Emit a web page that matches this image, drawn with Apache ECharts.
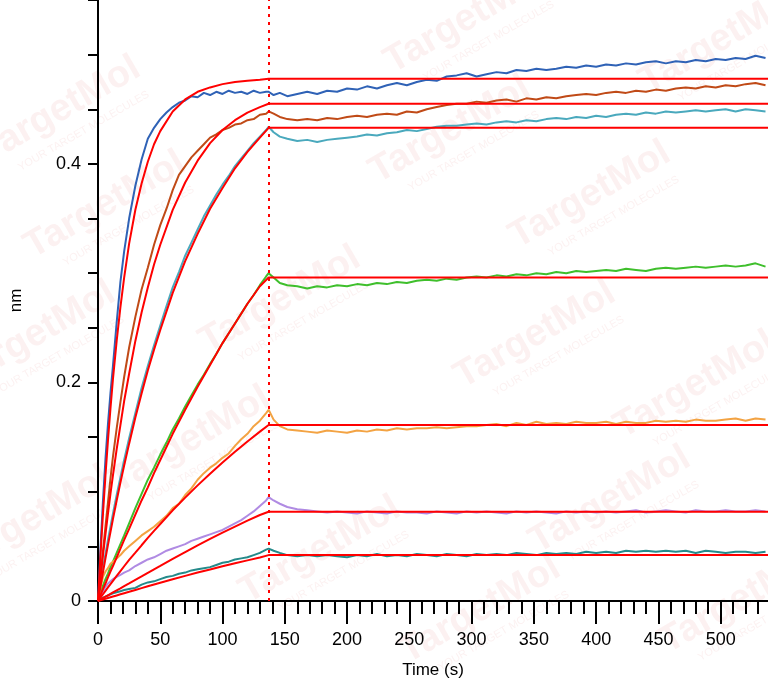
<!DOCTYPE html>
<html><head><meta charset="utf-8">
<script src="https://cdn.jsdelivr.net/npm/echarts@6/dist/echarts.min.js"></script>
<style>html,body{margin:0;padding:0;background:#fff}#c{width:768px;height:684px}</style>
</head><body><div id="c"></div>
<script>
// time points (s)
const times = [0,2,4,6,8,10,12,15,18,21,25,30,35,40,45,50,55,60,65,70,75,80,85,90,95,100,105,110,115,120,125,130,135,137,
  141,146,152,160,168,176,184,192,200,208,216,224,232,240,248,256,264,272,280,288,296,304,312,320,328,336,344,352,360,368,376,384,392,400,408,416,424,432,440,448,456,464,472,480,488,496,504,512,520,528,536];
const blue = [0,0.048,0.092,0.130,0.162,0.190,0.215,0.255,0.292,0.320,0.350,0.380,0.404,0.423,0.433,0.441,0.447,0.452,0.456,0.458,0.462,0.461,0.465,0.463,0.466,0.464,0.467,0.465,0.466,0.464,0.467,0.465,0.466,0.466,
  0.463,0.465,0.462,0.464,0.466,0.464,0.467,0.466,0.469,0.468,0.471,0.469,0.472,0.474,0.472,0.475,0.477,0.476,0.480,0.481,0.483,0.480,0.482,0.484,0.483,0.486,0.485,0.487,0.486,0.487,0.489,0.488,0.490,0.489,0.491,0.490,0.492,0.491,0.493,0.494,0.492,0.494,0.493,0.495,0.494,0.496,0.495,0.497,0.496,0.499,0.497];
const brown = [0,0.024,0.046,0.068,0.090,0.112,0.132,0.158,0.182,0.205,0.232,0.260,0.285,0.305,0.326,0.344,0.359,0.376,0.390,0.398,0.406,0.412,0.418,0.424,0.427,0.431,0.433,0.436,0.437,0.440,0.441,0.445,0.446,0.448,
  0.446,0.443,0.441,0.440,0.441,0.440,0.442,0.441,0.443,0.444,0.443,0.445,0.446,0.445,0.448,0.447,0.450,0.452,0.454,0.455,0.455,0.457,0.456,0.458,0.459,0.457,0.460,0.459,0.461,0.460,0.462,0.463,0.464,0.463,0.465,0.466,0.465,0.467,0.466,0.468,0.467,0.469,0.470,0.469,0.471,0.470,0.472,0.471,0.473,0.474,0.472];
const cyan = [0,0.016,0.030,0.043,0.056,0.068,0.080,0.097,0.113,0.129,0.149,0.172,0.195,0.215,0.234,0.252,0.270,0.287,0.301,0.316,0.328,0.340,0.352,0.362,0.372,0.381,0.389,0.398,0.405,0.412,0.419,0.425,0.431,0.434,
  0.429,0.425,0.423,0.421,0.422,0.420,0.422,0.423,0.424,0.425,0.427,0.426,0.428,0.429,0.431,0.430,0.432,0.434,0.435,0.435,0.436,0.437,0.436,0.438,0.439,0.438,0.440,0.439,0.441,0.442,0.441,0.443,0.442,0.444,0.443,0.445,0.446,0.445,0.447,0.446,0.448,0.447,0.448,0.449,0.448,0.449,0.450,0.448,0.450,0.449,0.448];
const green = [0,0.008,0.014,0.020,0.025,0.031,0.036,0.044,0.052,0.060,0.071,0.085,0.098,0.111,0.122,0.134,0.145,0.157,0.167,0.178,0.188,0.198,0.207,0.217,0.226,0.236,0.245,0.254,0.263,0.272,0.280,0.289,0.297,0.300,
  0.296,0.291,0.289,0.288,0.286,0.288,0.287,0.289,0.288,0.290,0.289,0.291,0.290,0.292,0.291,0.293,0.294,0.293,0.295,0.294,0.296,0.297,0.296,0.298,0.297,0.299,0.298,0.300,0.299,0.301,0.300,0.302,0.301,0.302,0.303,0.302,0.304,0.303,0.302,0.304,0.305,0.304,0.305,0.306,0.305,0.306,0.307,0.306,0.307,0.309,0.306];
const orange = [0,0.012,0.022,0.027,0.030,0.034,0.036,0.039,0.042,0.046,0.050,0.055,0.060,0.064,0.068,0.073,0.078,0.085,0.089,0.097,0.103,0.111,0.117,0.122,0.126,0.131,0.135,0.142,0.148,0.153,0.160,0.165,0.172,0.175,
  0.166,0.160,0.157,0.156,0.155,0.154,0.156,0.155,0.154,0.156,0.155,0.157,0.156,0.158,0.157,0.158,0.158,0.159,0.158,0.159,0.160,0.160,0.161,0.162,0.160,0.163,0.161,0.164,0.162,0.163,0.162,0.164,0.163,0.163,0.164,0.162,0.164,0.163,0.163,0.165,0.164,0.165,0.164,0.166,0.165,0.165,0.166,0.167,0.165,0.167,0.166];
const purple = [0,0.005,0.009,0.013,0.016,0.018,0.020,0.022,0.024,0.026,0.028,0.032,0.035,0.038,0.040,0.043,0.046,0.048,0.050,0.052,0.055,0.057,0.059,0.061,0.063,0.065,0.068,0.071,0.074,0.078,0.082,0.087,0.092,0.095,
  0.092,0.089,0.086,0.084,0.083,0.082,0.081,0.082,0.081,0.080,0.082,0.081,0.080,0.082,0.081,0.081,0.080,0.082,0.081,0.080,0.082,0.081,0.082,0.081,0.080,0.082,0.081,0.082,0.081,0.080,0.082,0.081,0.082,0.081,0.082,0.081,0.082,0.083,0.081,0.082,0.083,0.082,0.081,0.083,0.082,0.082,0.083,0.082,0.082,0.083,0.082];
const teal = [0,0.002,0.003,0.004,0.005,0.006,0.007,0.008,0.009,0.010,0.011,0.012,0.015,0.017,0.018,0.020,0.022,0.023,0.025,0.026,0.028,0.029,0.030,0.031,0.033,0.035,0.036,0.038,0.039,0.040,0.042,0.044,0.047,0.048,
  0.046,0.044,0.042,0.041,0.042,0.041,0.042,0.041,0.040,0.042,0.041,0.043,0.041,0.042,0.041,0.043,0.042,0.041,0.043,0.042,0.041,0.043,0.042,0.043,0.042,0.044,0.043,0.042,0.044,0.043,0.044,0.043,0.045,0.044,0.045,0.044,0.046,0.045,0.046,0.045,0.046,0.045,0.046,0.044,0.046,0.045,0.044,0.045,0.045,0.044,0.045];

// fitted curves
const fitTimes = [0,2,4,6,8,10,12,15,18,21,25,30,35,40,45,50,60,70,80,90,100,110,120,130,137,538];
const fit1 = [0,0.042,0.080,0.115,0.147,0.176,0.203,0.238,0.269,0.296,0.327,0.358,0.382,0.402,0.418,0.430,0.448,0.459,0.466,0.470,0.473,0.475,0.476,0.477,0.478,0.478];
const fit2 = [0,0.021,0.042,0.061,0.080,0.098,0.115,0.139,0.161,0.183,0.208,0.238,0.264,0.287,0.308,0.326,0.358,0.383,0.403,0.419,0.431,0.440,0.447,0.452,0.455,0.455];
const fit3 = [0,0.0134,0.0264,0.039,0.0514,0.063,0.075,0.092,0.1085,0.124,0.144,0.168,0.190,0.211,0.230,0.248,0.282,0.311,0.336,0.359,0.378,0.396,0.411,0.424,0.433,0.433];
const fit4 = [0,0.0054,0.0108,0.016,0.0216,0.027,0.032,0.040,0.048,0.056,0.066,0.079,0.092,0.104,0.117,0.129,0.153,0.175,0.196,0.216,0.236,0.254,0.272,0.288,0.296,0.296];
const fit5 = [0,0.0031,0.0062,0.0093,0.0124,0.0154,0.0185,0.023,0.0274,0.0318,0.0376,0.0442,0.051,0.0577,0.0642,0.0705,0.083,0.0946,0.1058,0.1165,0.1267,0.1365,0.146,0.155,0.161,0.161];
const fit6 = [0,0.0013,0.0026,0.0039,0.0052,0.0065,0.0078,0.0097,0.0116,0.0136,0.0161,0.0193,0.0225,0.0258,0.029,0.0321,0.0385,0.0448,0.051,0.0568,0.0625,0.068,0.0735,0.0787,0.0817,0.0817];
const fit7 = [0,0.0007,0.0014,0.002,0.0027,0.0034,0.0041,0.0051,0.0061,0.0071,0.0084,0.0101,0.0118,0.0135,0.0151,0.0167,0.0199,0.023,0.026,0.0289,0.0318,0.0345,0.0372,0.0398,0.042,0.042];

const switchTime = 137;
const xMinorTicks = [0,10,20,30,40,50,60,70,80,90,100,110,120,130,140,150,160,170,180,190,200,210,220,230,240,250,260,270,280,290,300,310,320,330,340,350,360,370,380,390,400,410,420,430,440,450,460,470,480,490,500,510,520,530];
const xLabels = [0,50,100,150,200,250,300,350,400,450,500];
const yLabels = [0,0.2,0.4];
const watermarkText = 'TargetMol';
const watermarkSub = 'YOUR TARGET MOLECULES';

const dataSeries = [
  {name:'s1', values: blue, color:'#2f62b6'},
  {name:'s2', values: brown, color:'#c04a17'},
  {name:'s3', values: cyan, color:'#4aa9bd'},
  {name:'s4', values: green, color:'#3fbf2c'},
  {name:'s5', values: orange, color:'#f3a343'},
  {name:'s6', values: purple, color:'#b08be3'},
  {name:'s7', values: teal, color:'#258a8a'}
];
const fits = [fit1,fit2,fit3,fit4,fit5,fit6,fit7];

const FONT = "'Liberation Sans Narrow','Arial Narrow','Liberation Sans',Arial,sans-serif";
const series = [];
dataSeries.forEach(s => {
  series.push({type:'line', name:s.name, xAxisIndex:0, symbol:'none', animation:false,
    data: times.map((t,i)=>[t, s.values[i]]),
    lineStyle:{color:s.color, width:2}, z:2});
});
fits.forEach((f,k) => {
  series.push({type:'line', name:'fit'+(k+1), xAxisIndex:0, symbol:'none', animation:false,
    data: fitTimes.map((t,i)=>[t, f[i]]), smooth:false,
    lineStyle:{color:'#ff0000', width:2}, z:3,
    markLine: k===0 ? {symbol:'none', silent:true, label:{show:false},
      lineStyle:{color:'#ff0000', width:2, type:[3,5]}, data:[{xAxis: switchTime}]} : undefined});
});

// faint watermark stamps (decorative)
const wmCenters = [[465,20],[450,130],[590,195],[105,205],[280,300],[35,335],[535,335],[695,385],[190,440],[30,520],[610,500],[320,550],[480,610],[740,600],[60,110],[720,40]];
const graphics = wmCenters.map(c => ({
  type:'group', x:c[0], y:c[1], rotation: Math.PI/6, z:0, silent:true,
  children:[
    {type:'text', style:{text:watermarkText, x:0, y:0, align:'center', verticalAlign:'middle',
      font:"bold 38px 'Liberation Sans',Arial,sans-serif", fill:'rgba(215,60,60,0.07)'}},
    {type:'text', style:{text:watermarkSub, x:10, y:30, align:'center', verticalAlign:'middle',
      font:"11px 'Liberation Sans',Arial,sans-serif", fill:'rgba(215,60,60,0.07)'}}
  ]
}));

const chart = echarts.init(document.getElementById('c'), null, {renderer:'canvas'});
chart.setOption({
  animation:false,
  backgroundColor:'#ffffff',
  graphic: graphics,
  grid:{left:97, right:0, top:0, bottom:83, containLabel:false},
  xAxis:[{
    type:'value', min:0, max:538, interval:10,
    name:'Time (s)', nameLocation:'middle', nameGap:61,
    nameTextStyle:{fontFamily:FONT, fontSize:17, color:'#000'},
    axisLine:{show:true, onZero:false, lineStyle:{color:'#000', width:2}},
    axisTick:{show:true, customValues:xMinorTicks, length:13, lineStyle:{color:'#000', width:2}},
    axisLabel:{show:true, customValues:xLabels, margin:30, fontFamily:FONT, fontSize:18, color:'#000'},
    splitLine:{show:false}
  },{
    type:'value', min:0, max:538, interval:50, position:'bottom',
    axisLine:{show:false, onZero:false},
    axisTick:{show:true, customValues:xLabels, length:23, lineStyle:{color:'#000', width:2}},
    axisLabel:{show:false}, splitLine:{show:false}
  }],
  yAxis:{
    type:'value', min:0, max:0.55, interval:0.05,
    name:'nm', nameLocation:'middle', nameGap:73,
    nameTextStyle:{fontFamily:FONT, fontSize:17, color:'#000'},
    axisLine:{show:true, onZero:false, lineStyle:{color:'#000', width:2}},
    axisTick:{show:true, length:10, lineStyle:{color:'#000', width:2}},
    axisLabel:{show:true, customValues:yLabels, margin:17, fontFamily:FONT, fontSize:18, color:'#000',
      formatter: v => String(Math.round(v*10)/10)},
    splitLine:{show:false}
  },
  series: series
});
</script></body></html>
